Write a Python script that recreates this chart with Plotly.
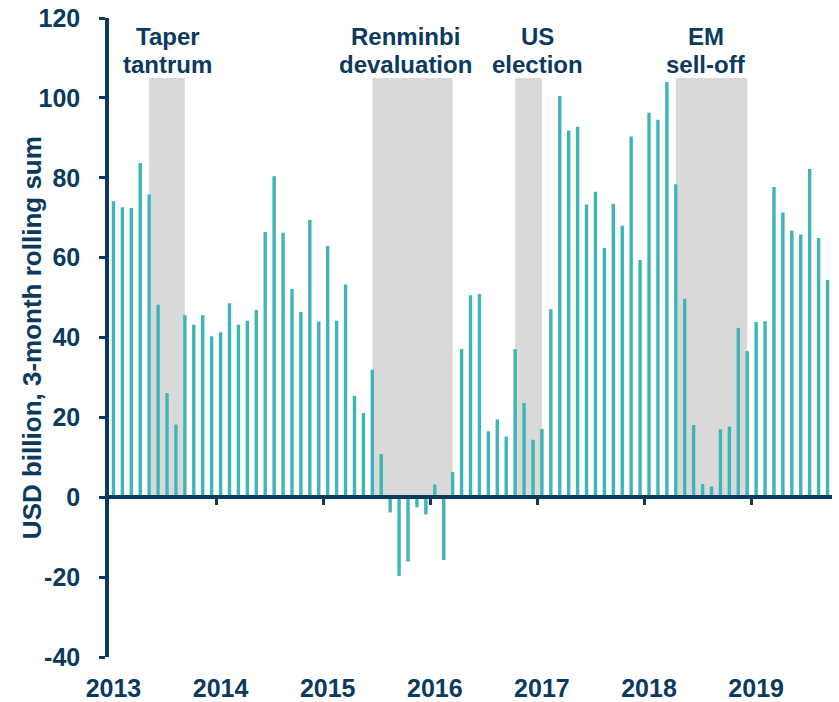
import plotly.graph_objects as go

# ---------------- data ----------------
months = [f"{y}-{m:02d}" for y in range(2013, 2020) for m in range(1, 13)][:81]

flows = [
    74.1, 72.6, 72.4, 83.7, 75.8, 48.2, 26.1, 18.2, 45.6, 43.2, 45.6, 40.3,   # 2013
    41.3, 48.6, 43.2, 44.2, 46.9, 66.4, 80.4, 66.2, 52.2, 46.4, 69.5, 44.0,   # 2014
    62.9, 44.2, 53.3, 25.4, 21.1, 31.9, 10.8, -3.8, -19.7, -16.1, -2.5, -4.3,  # 2015
    3.2, -15.7, 6.3, 37.1, 50.6, 50.9, 16.5, 19.5, 15.2, 37.1, 23.6, 14.4,    # 2016
    17.1, 47.1, 100.5, 91.8, 92.8, 73.3, 76.5, 62.4, 73.5, 68.0, 90.3, 59.4,  # 2017
    96.3, 94.5, 104.0, 78.4, 49.7, 18.1, 3.3, 2.7, 17.0, 17.7, 42.4, 36.6,    # 2018
    43.9, 44.1, 77.7, 71.3, 66.7, 65.8, 82.2, 64.9, 54.4,                     # 2019
]

years = ["2013", "2014", "2015", "2016", "2017", "2018", "2019"]
y_ticks = [-40, -20, 0, 20, 40, 60, 80, 100, 120]
y_ticktext = ["-40", "-20", "0", "20", "40", "60", "80", "100", "120"]

event_line1 = ["Taper", "Renminbi", "US", "EM"]
event_line2 = ["tantrum", "devaluation", "election", "sell-off"]
event_start = ["2013-05", "2015-06", "2016-10", "2018-04"]
event_end = ["2013-09", "2016-03", "2017-01", "2018-12"]
shade_top = 105

# ---------------- style ----------------
NAVY = "#0B3A5E"
TEAL = "#3FB5B8"
GRAY = "#D9D9D9"
FONT = "Liberation Sans, Arial, sans-serif"

x = list(range(len(months)))
year_idx = [months.index(f"{y}-01") for y in years]
year_bounds = [i - 0.5 for i in year_idx[1:]]

fig = go.Figure()
fig.add_trace(go.Bar(x=x, y=flows, width=0.38, marker_color=TEAL,
                     marker_line_width=0, showlegend=False, hoverinfo="y"))
# dummy trace so that the zero-line axis is drawn
fig.add_trace(go.Scatter(x=[None], y=[None], xaxis="x2", yaxis="y",
                         showlegend=False, hoverinfo="skip"))

# shaded event periods
for s, e in zip(event_start, event_end):
    fig.add_shape(type="rect", xref="x", yref="y",
                  x0=months.index(s), x1=months.index(e), y0=0, y1=shade_top,
                  fillcolor=GRAY, line_width=0, layer="below")

# event labels (centre offsets relative to shading, in months)
label_x = [6.07, 32.67, 47.45, 66.43]
for lx, t1, t2 in zip(label_x, event_line1, event_line2):
    for txt, ly in ((t1, 115.4), (t2, 108.3)):
        fig.add_annotation(x=lx, y=ly, xref="x", yref="y", text=txt,
                           showarrow=False, xanchor="center", yanchor="middle",
                           font=dict(family=FONT, size=24, color=NAVY, weight="bold"))

# y-axis title
fig.add_annotation(xref="paper", yref="paper", x=-0.107, y=0.5,
                   text="USD billion, 3-month rolling sum", textangle=-90,
                   showarrow=False, xanchor="center", yanchor="middle",
                   font=dict(family=FONT, size=26, color=NAVY, weight="bold"))

xr = [-0.5, len(months) - 0.5]
fig.update_layout(
    width=839, height=702,
    margin=dict(l=109, r=7, t=18, b=45, autoexpand=False),
    plot_bgcolor="white", paper_bgcolor="white",
    xaxis=dict(range=xr, tickmode="array", tickvals=year_idx, ticktext=years,
               showline=False, showgrid=False, zeroline=False, ticks="",
               ticklabelstandoff=14, automargin=False,
               tickfont=dict(family=FONT, size=25, color=NAVY, weight="bold")),
    xaxis2=dict(range=xr, overlaying="x", anchor="free", position=0.25,
                side="bottom", showline=True, linecolor=NAVY, linewidth=3.5,
                ticks="outside", tickmode="array", tickvals=year_bounds,
                ticklen=6, tickwidth=3, tickcolor=NAVY, automargin=False,
                showticklabels=False, showgrid=False, zeroline=False),
    yaxis=dict(range=[-40, 120], tickmode="array",
               tickvals=y_ticks, ticktext=y_ticktext,
               showline=True, linecolor=NAVY, linewidth=3.5,
               ticks="outside", ticklen=6, tickwidth=3, tickcolor=NAVY,
               showgrid=False, zeroline=False, ticklabelstandoff=14,
               automargin=False,
               tickfont=dict(family=FONT, size=25, color=NAVY, weight="bold")),
    showlegend=False,
)

fig.write_html("out.html", config={"displayModeBar": False},
               post_script="document.body.style.margin='0px';")
